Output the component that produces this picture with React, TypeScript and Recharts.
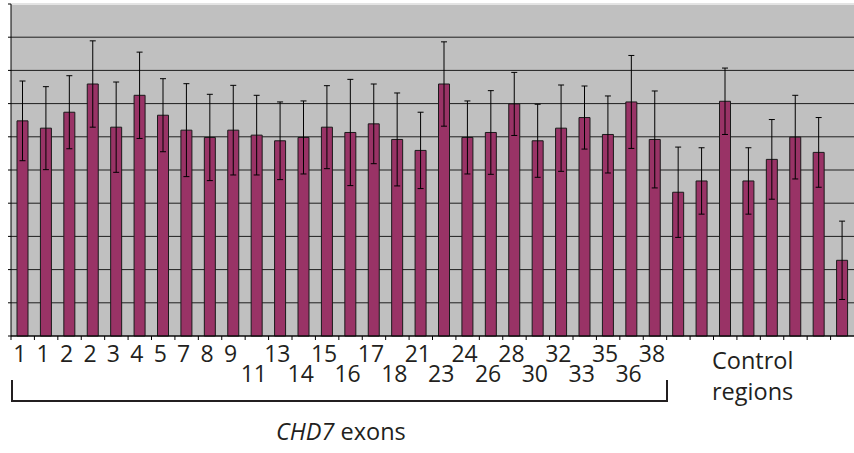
import React from 'react';
import { BarChart, Bar, XAxis, YAxis, CartesianGrid, ErrorBar, ReferenceLine } from 'recharts';

const categories = [
  'e1a', 'e1b', 'e2a', 'e2b', 'e3', 'e4', 'e5', 'e7', 'e8', 'e9',
  'e11', 'e13', 'e14', 'e15', 'e16', 'e17', 'e18', 'e21', 'e23', 'e24',
  'e26', 'e28', 'e30', 'e32', 'e33', 'e35', 'e36', 'e38',
  'c1', 'c2', 'c3', 'c4', 'c5', 'c6', 'c7', 'c8',
];

const tickLabels = [
  '1', '1', '2', '2', '3', '4', '5', '7', '8', '9',
  '11', '13', '14', '15', '16', '17', '18', '21', '23', '24',
  '26', '28', '30', '32', '33', '35', '36', '38',
  '', '', '', '', '', '', '', '',
];

// 0 = upper label row, 1 = lower label row
const tickRows = [
  0, 0, 0, 0, 0, 0, 0, 0, 0, 0,
  1, 0, 1, 0, 1, 0, 1, 0, 1, 0,
  1, 0, 1, 0, 1, 0, 1, 0,
  0, 0, 0, 0, 0, 0, 0, 0,
];

const values = [
  6.48, 6.26, 6.74, 7.59, 6.29, 7.25, 6.65, 6.2, 5.98, 6.2,
  6.05, 5.88, 5.98, 6.29, 6.13, 6.39, 5.92, 5.59, 7.59, 5.98,
  6.13, 6.99, 5.88, 6.26, 6.58, 6.07, 7.05, 5.92,
  4.33, 4.67, 7.07, 4.67, 5.32, 5.99, 5.53, 2.28,
];

const errors = [
  1.2, 1.25, 1.1, 1.3, 1.36, 1.3, 1.1, 1.4, 1.3, 1.35,
  1.2, 1.17, 1.1, 1.25, 1.6, 1.2, 1.4, 1.15, 1.27, 1.1,
  1.26, 0.95, 1.1, 1.3, 0.95, 1.16, 1.4, 1.46,
  1.36, 1.0, 1.0, 1.0, 1.2, 1.26, 1.05, 1.18,
];

const yTicks = [0, 1, 2, 3, 4, 5, 6, 7, 8, 9, 10];

const data = categories.map((name, i) => ({ name, value: values[i], err: errors[i] }));

const FONT = '"Open Sans", "Noto Sans", sans-serif';
const INK = '#231f20';

const EmptyTick = () => <g />;

const XTick = (props: any) => {
  const { x, y, payload } = props;
  const i = payload.index;
  const half = payload.offset ?? 0;
  const row = tickRows[i];
  const label = tickLabels[i];
  return (
    <g>
      <line x1={x - half} x2={x - half} y1={y - 4} y2={y} stroke="#000" strokeWidth={1} />
      {label ? (
        <text
          x={x - 3}
          y={y + (row === 0 ? 22 : 42)}
          textAnchor="middle"
          fontFamily={FONT}
          fontSize={23}
          fill={INK}
        >
          {label}
        </text>
      ) : null}
    </g>
  );
};

export default function App() {
  return (
    <div style={{ position: 'absolute', left: 0, top: 0, width: 854, height: 453, background: '#fff' }}>
      <BarChart
        width={854}
        height={453}
        data={data}
        margin={{ top: 4, right: 0, left: 0, bottom: 87 }}
        barCategoryGap={0}
      >
        <CartesianGrid vertical={false} stroke="#1e1e1e" fill="#c0c0c0" fillOpacity={1} />
        <YAxis
          type="number"
          domain={[0, 10]}
          ticks={yTicks}
          width={11}
          tickSize={3}
          tick={EmptyTick}
          axisLine={{ stroke: '#000' }}
          tickLine={{ stroke: '#000' }}
          interval={0}
        />
        <XAxis
          dataKey="name"
          height={30}
          interval={0}
          tickSize={4}
          tickMargin={0}
          tickLine={false}
          axisLine={{ stroke: '#000' }}
          tick={<XTick />}
        />
        <ReferenceLine y={10} stroke="#e4e4e4" strokeWidth={2} />
        <Bar dataKey="value" fill="#993366" stroke="#1a1a1a" strokeWidth={1} barSize={11} isAnimationActive={false}>
          <ErrorBar dataKey="err" width={3} stroke="#000" strokeWidth={1} direction="y" />
        </Bar>
      </BarChart>
      <svg
        width={854}
        height={453}
        style={{ position: 'absolute', left: 0, top: 0, pointerEvents: 'none' }}
      >
        <path d="M12 380 V401 H667 V380" fill="none" stroke={INK} strokeWidth={2} />
        <text x={276} y={440} fontFamily={FONT} fontSize={23.5} fill={INK}>
          <tspan fontStyle="italic">CHD7</tspan> exons
        </text>
        <text x={712} y={369} fontFamily={FONT} fontSize={23.5} fill={INK}>Control</text>
        <text x={712} y={400} fontFamily={FONT} fontSize={23.5} fill={INK}>regions</text>
      </svg>
    </div>
  );
}
